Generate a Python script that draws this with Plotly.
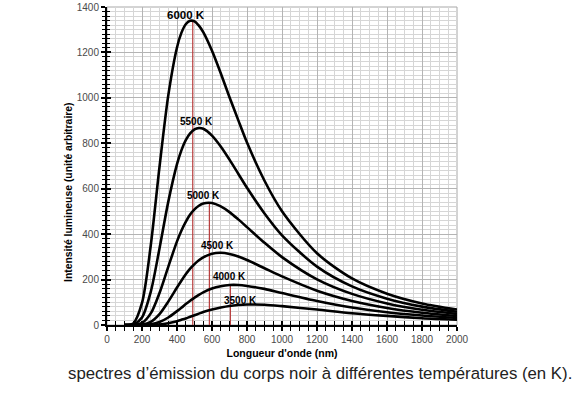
import plotly.graph_objects as go

# Wavelengths (nm)
wavelength = [100, 150, 200, 250, 300, 350, 400, 425, 450, 475, 500, 525, 550, 600, 650, 700, 750, 800,
              900, 1000, 1200, 1400, 1600, 1800, 2000]

# Intensity (arbitrary units)
i6000 = [0, 7, 97, 350, 696, 1010, 1222, 1286, 1324, 1339, 1337, 1318, 1289, 1207, 1108, 1003, 902, 803,
         635, 501, 316, 205, 138, 95, 68]
i5500 = [0, 2, 33, 146, 337, 542, 708, 769, 814, 844, 861, 867, 864, 834, 786, 728, 666, 604,
         491, 395, 257, 170, 116, 81, 58]
i5000 = [0, 0, 9, 51, 141, 256, 368, 415, 454, 486, 509, 525, 535, 537, 522, 497, 465, 431,
         362, 299, 201, 137, 95, 67, 49]
i4500 = [0, 0, 2, 14, 48, 103, 165, 195, 223, 248, 268, 285, 298, 314, 318, 313, 302, 286,
         250, 214, 151, 106, 75, 54, 40]
i4000 = [0, 0, 0, 3, 13, 33, 61, 76, 92, 107, 120, 133, 144, 161, 171, 176, 176, 172,
         159, 141, 106, 77, 56, 42, 31]
i3500 = [0, 0, 0, 0, 2, 8, 17, 23, 29, 36, 43, 50, 57, 68, 77, 84, 88, 90,
         89, 83, 68, 52, 40, 30, 23]

series = [i6000, i5500, i5000, i4500, i4000, i3500]
labels = ["6000 K", "5500 K", "5000 K", "4500 K", "4000 K", "3500 K"]
label_x = [454, 514, 554, 631, 702, 764]
label_y = [1365, 898, 568, 349, 213, 110]
label_size = [11.5, 10, 10, 10, 10, 10]

# Red peak markers (wavelength of peak, height)
peak_x = [490, 585, 705]
peak_top = [1340, 535, 176]

x_ticks = [0, 200, 400, 600, 800, 1000, 1200, 1400, 1600, 1800, 2000]
y_ticks = [0, 200, 400, 600, 800, 1000, 1200, 1400]

fig = go.Figure()

for px, pt in zip(peak_x, peak_top):
    fig.add_trace(go.Scatter(x=[px, px], y=[0, pt], mode="lines",
                             line=dict(color="#b83c3c", width=1.2),
                             showlegend=False, hoverinfo="skip"))

for s in series:
    fig.add_trace(go.Scatter(x=wavelength, y=s, mode="lines",
                             line=dict(color="black", width=2.6, shape="spline", smoothing=0.8),
                             showlegend=False))

for lab, lx, ly, ls in zip(labels, label_x, label_y, label_size):
    fig.add_annotation(x=lx, y=ly, text="<b>%s</b>" % lab, showarrow=False,
                       font=dict(family="Liberation Sans, Arial", size=ls, color="black"),
                       xanchor="center", yanchor="middle")

tickfont = dict(family="Liberation Sans, Arial", size=10, color="#4a4a4a")

fig.update_layout(
    width=584, height=394,
    margin=dict(l=107, r=127, t=7, b=69, autoexpand=False),
    paper_bgcolor="white", plot_bgcolor="white",
    xaxis=dict(range=[0, 2000], tickvals=x_ticks, tickfont=tickfont, automargin=False,
               showline=True, linecolor="black", linewidth=2,
               ticks="outside", ticklen=4, tickwidth=1.5, tickcolor="black",
               showgrid=True, gridcolor="#b4b4b4", gridwidth=1,
               minor=dict(dtick=50, ticks="outside", ticklen=4, tickwidth=1.2, tickcolor="black",
                          showgrid=True, gridcolor="#d6d6d6", gridwidth=1),
               zeroline=False, mirror=False, fixedrange=True,
               title=dict(text="<b>Longueur d'onde (nm)</b>", standoff=6,
                          font=dict(family="Liberation Sans, Arial", size=10.5, color="black"))),
    yaxis=dict(range=[0, 1400], tickvals=y_ticks, tickfont=tickfont, automargin=False,
               showline=True, linecolor="black", linewidth=2,
               ticks="outside", ticklen=4, tickwidth=1.5, tickcolor="black",
               showgrid=True, gridcolor="#b4b4b4", gridwidth=1,
               minor=dict(dtick=20, ticks="outside", ticklen=3, tickwidth=1.2, tickcolor="black",
                          showgrid=True, gridcolor="#d6d6d6", gridwidth=1),
               zeroline=False, fixedrange=True),
    xaxis2=dict(range=[0, 2000], overlaying="x", anchor="y", side="bottom", automargin=False,
                tickvals=x_ticks, showticklabels=False, ticks="inside", ticklen=4,
                tickwidth=1.5, tickcolor="black", showgrid=False, zeroline=False,
                minor=dict(dtick=50, ticks="inside", ticklen=4, tickwidth=1.2, tickcolor="black")),
    yaxis2=dict(range=[0, 1400], overlaying="y", anchor="x", side="left", automargin=False,
                tickvals=y_ticks, showticklabels=False, ticks="inside", ticklen=4,
                tickwidth=1.5, tickcolor="black", showgrid=False, zeroline=False,
                minor=dict(dtick=20, ticks="inside", ticklen=3, tickwidth=1.2, tickcolor="black")),
)

# plot border top/right
fig.add_shape(type="rect", xref="paper", yref="paper", x0=0, y0=0, x1=1, y1=1,
              line=dict(color="#a8a8a8", width=1), layer="below")

# dummy trace to activate the overlay axes
fig.add_trace(go.Scatter(x=[0], y=[0], xaxis="x2", yaxis="y2", mode="markers",
                         marker=dict(opacity=0), showlegend=False, hoverinfo="skip"))

# y-axis title (placed like the original, slightly below centre)
fig.add_annotation(xref="paper", yref="paper", x=(68 - 107) / 350, y=(325 - 192) / 318,
                   text="<b>Intensité lumineuse (unité arbitraire)</b>", textangle=-90,
                   showarrow=False, xanchor="center", yanchor="middle",
                   font=dict(family="Liberation Sans, Arial", size=10.4, color="black"))

fig.add_annotation(xref="paper", yref="paper", x=(320 - 107) / 350, y=-(373 - 325) / 318,
                   text="spectres d\u2019émission du corps noir à différentes températures (en K).",
                   showarrow=False, xanchor="center", yanchor="middle",
                   font=dict(family="Liberation Sans, Arial", size=16.8, color="#222222"))

fig.write_html("out.html", config={"displayModeBar": False},
               post_script="document.body.style.margin='0';document.body.style.padding='0';")
